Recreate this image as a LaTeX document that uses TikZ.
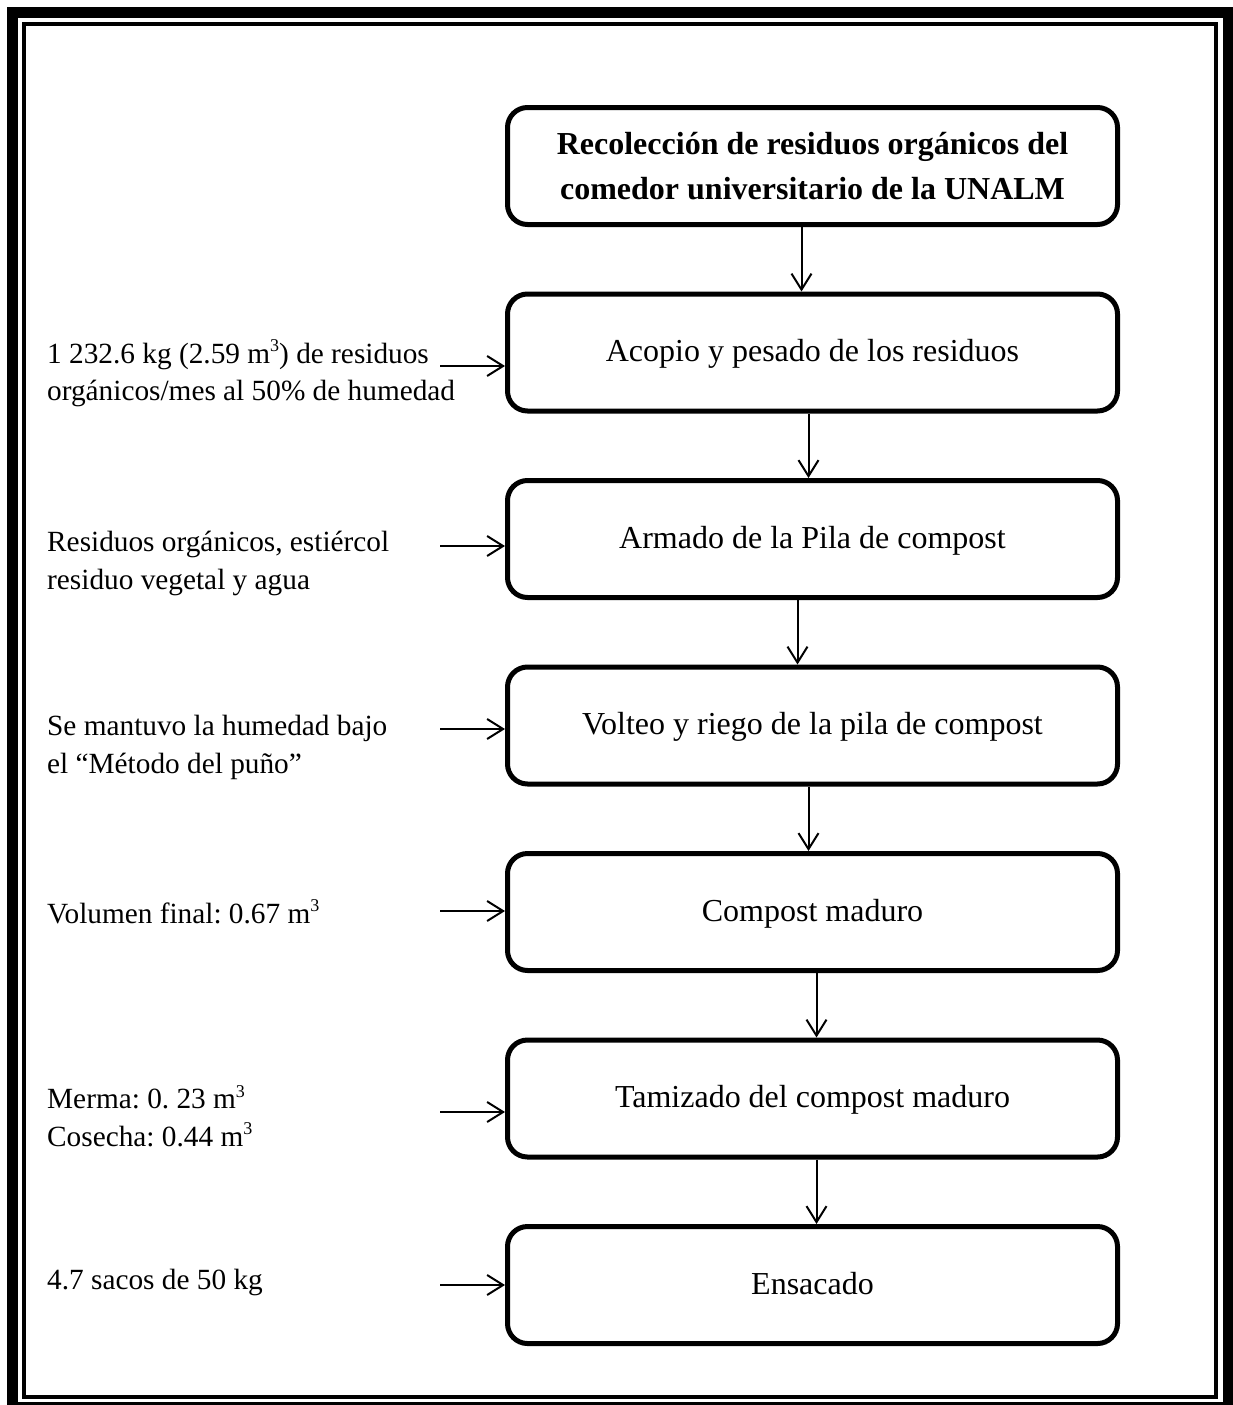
\documentclass[tikz,border=0pt]{standalone}
\usepackage{fontspec}
\setmainfont{Liberation Serif}
\frenchspacing
\usetikzlibrary{arrows.meta,positioning}
\newcommand{\mcub}{m\raisebox{0.4em}{\fontsize{18}{18}\selectfont 3}}
\tikzset{box/.style={draw,rounded corners=20pt,line width=5pt,align=center,minimum width=610pt,minimum height=117pt,text depth=4pt,font=\fontsize{32}{38}\selectfont},note/.style={anchor=west,align=left,inner sep=0pt,font=\fontsize{29.3}{37.5}\selectfont},arr/.style={-{Straight Barb[length=16pt,width=20pt]},line width=2pt}}

\begin{document}
\begin{tikzpicture}[node distance=64.5pt]
\useasboundingbox (0,0) rectangle (1232pt,-1405pt);
\draw[line width=11pt] (12.5pt,-12.5pt) rectangle (1228.5pt,-1407.5pt);
\draw[line width=4pt] (23.5pt,-24pt) rectangle (1215.5pt,-1396.5pt);
\node[box,text depth=0pt,font=\bfseries\fontsize{32}{45}\selectfont] (recoleccion) at (812.5pt,-166pt) {Recolección de residuos orgánicos del\\comedor universitario de la UNALM};
\node[box,below=of recoleccion] (acopio) {Acopio y pesado de los residuos};
\node[box,below=of acopio] (armado) {Armado de la Pila de compost};
\node[box,below=of armado] (volteo) {Volteo y riego de la pila de compost};
\node[box,below=of volteo] (maduro) {Compost maduro};
\node[box,below=of maduro] (tamizado) {Tamizado del compost maduro};
\node[box,below=of tamizado] (ensacado) {Ensacado};
\draw[arr] ([xshift=-11pt]recoleccion.south) -- ([xshift=-11pt]acopio.north);
\draw[arr] ([xshift=-4pt]acopio.south) -- ([xshift=-4pt]armado.north);
\draw[arr] ([xshift=-15pt]armado.south) -- ([xshift=-15pt]volteo.north);
\draw[arr] ([xshift=-4pt]volteo.south) -- ([xshift=-4pt]maduro.north);
\draw[arr] ([xshift=4pt]maduro.south) -- ([xshift=4pt]tamizado.north);
\draw[arr] ([xshift=4pt]tamizado.south) -- ([xshift=4pt]ensacado.north);
% entradas a la izquierda
\node[note] (residuos) at (47pt,-373.5pt) {1 232.6 kg (2.59 \mcub) de residuos\\orgánicos/mes al 50\% de humedad};
\node[note] (mezcla) at (47pt,-563.5pt) {Residuos orgánicos, estiércol\\residuo vegetal y agua};
\node[note] (humedad) at (47pt,-747.5pt) {Se mantuvo la humedad bajo\\el “Método del puño”};
\node[note] (volumen) at (47pt,-912pt) {Volumen final: 0.67 \mcub};
\node[note] (merma) at (47pt,-1116pt) {Merma: 0. 23 \mcub\\Cosecha: 0.44 \mcub};
\node[note] (sacos) at (47pt,-1282pt) {4.7 sacos de 50 kg};
\coordinate (in1) at (440pt,-366pt);
\coordinate (in2) at (440pt,-546pt);
\coordinate (in3) at (440pt,-729pt);
\coordinate (in4) at (440pt,-911pt);
\coordinate (in5) at (440pt,-1112pt);
\coordinate (in6) at (440pt,-1285pt);
\draw[arr] (in1) -- (in1 -| acopio.west);
\draw[arr] (in2) -- (in2 -| armado.west);
\draw[arr] (in3) -- (in3 -| volteo.west);
\draw[arr] (in4) -- (in4 -| maduro.west);
\draw[arr] (in5) -- (in5 -| tamizado.west);
\draw[arr] (in6) -- (in6 -| ensacado.west);
\end{tikzpicture}
\end{document}
